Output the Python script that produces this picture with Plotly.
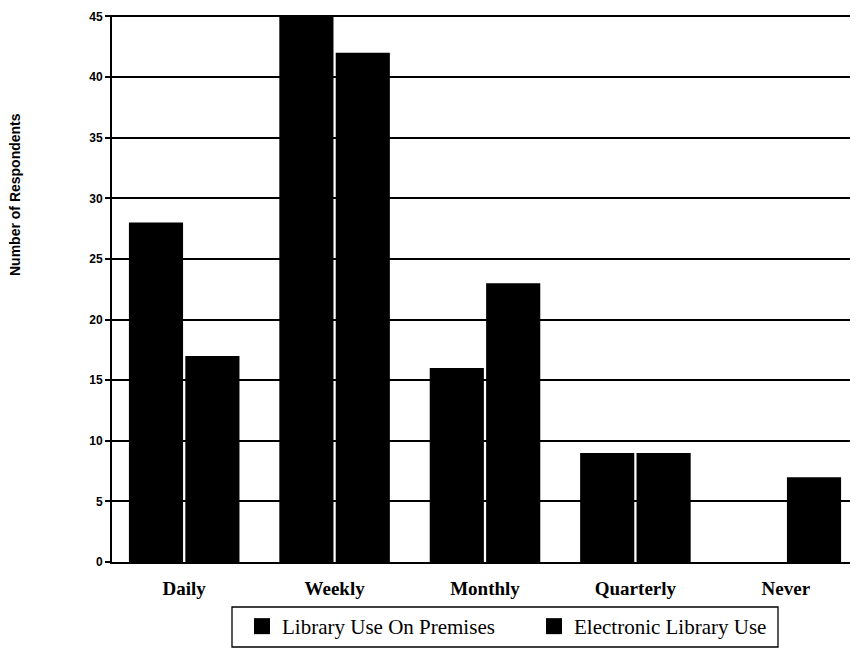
import plotly.graph_objects as go

categories = ["Daily", "Weekly", "Monthly", "Quarterly", "Never"]
premises = [28, 45, 16, 9, 0]
electronic = [17, 42, 23, 9, 7]
y_ticks = [0, 5, 10, 15, 20, 25, 30, 35, 40, 45]
series_names = ["Library Use On Premises", "Electronic Library Use"]

fig = go.Figure()
fig.add_trace(go.Bar(x=categories, y=premises, name=series_names[0], showlegend=False,
                     marker=dict(color="black", line=dict(width=0))))
fig.add_trace(go.Bar(x=categories, y=electronic, name=series_names[1], showlegend=False,
                     marker=dict(color="black", line=dict(width=0))))
# legend-only entries with large square swatches
for nm in series_names:
    fig.add_trace(go.Scatter(x=[None], y=[None], mode="markers", name=nm,
                             marker=dict(symbol="square", size=19, color="black")))

OFF = 8  # default page body margin
W, H = 858 - OFF, 653 - OFF
ml, mr, mt, mb = 112 - OFF, 0, 15 - OFF, 653 - 562
pw = W - ml - mr
ph = H - mt - mb

def px_x(x):
    return (x - OFF - ml) / pw

def px_y(y):
    return (mt + ph - (y - OFF)) / ph

fig.update_layout(
    width=W, height=H,
    margin=dict(l=ml, r=mr, t=mt, b=mb, autoexpand=False),
    paper_bgcolor="white", plot_bgcolor="white",
    barmode="group", bargap=0.25, bargroupgap=0.04,
    showlegend=True,
    legend=dict(
        orientation="h",
        x=px_x(242), xanchor="left",
        y=px_y(606), yanchor="top",
        borderwidth=0, bgcolor="rgba(0,0,0,0)",
        font=dict(family="Liberation Serif", size=21, color="black"),
        entrywidth=247, entrywidthmode="pixels",
        itemwidth=30, itemsizing="trace",
    ),
    shapes=[dict(
        type="rect", xref="paper", yref="paper",
        x0=px_x(232), x1=px_x(778), y0=px_y(607), y1=px_y(647),
        line=dict(color="black", width=1.3),
    )],
    xaxis=dict(
        range=[-0.48, 4.48],
        showline=True, linecolor="black", linewidth=2,
        tickfont=dict(family="Liberation Serif", size=19, color="black", weight="bold"),
        ticks="", showgrid=False, ticklabelstandoff=8,
    ),
    yaxis=dict(
        range=[0, 45.12],
        tickvals=y_ticks,
        showline=True, linecolor="black", linewidth=2,
        showgrid=True, gridcolor="black", gridwidth=1.8,
        ticks="outside", ticklen=5, tickcolor="black", tickwidth=1.5,
        tickfont=dict(family="Liberation Sans", size=12, color="black", weight="bold"),
        ticklabeloverflow="allow",
        zeroline=False,
    ),
    annotations=[dict(
        text="Number of Respondents", textangle=-90,
        xref="paper", yref="paper",
        x=px_x(15), y=px_y(195),
        xanchor="center", yanchor="middle", showarrow=False,
        font=dict(family="Liberation Sans", size=14, color="black", weight="bold"),
    )],
)

fig.write_html("out.html")
